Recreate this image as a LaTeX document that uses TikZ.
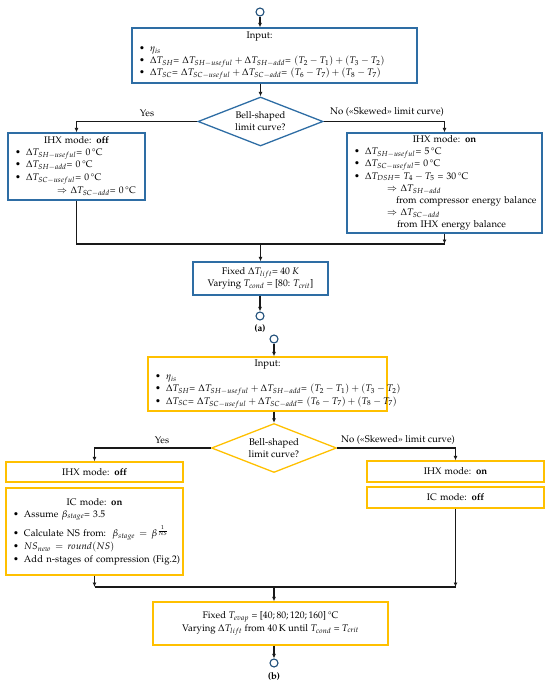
\documentclass[tikz,border=0pt]{standalone}
\usepackage[T1]{fontenc}
\usepackage{mathpazo}
\usepackage{amsmath}
\usetikzlibrary{shapes.geometric,arrows.meta}

\definecolor{boxblue}{RGB}{46,109,164}
\definecolor{circblue}{RGB}{31,78,121}
\definecolor{boxgold}{RGB}{255,192,0}
\definecolor{linegray}{RGB}{25,25,25}

\newcommand{\blt}[1]{\mbox{\makebox[11pt][l]{\textbullet}#1}}
\newcommand{\degC}{\,\textdegree C}

\begin{document}
\begin{tikzpicture}[x=1pt,y=-1pt,font=\fontsize{9.6}{12.2}\selectfont,
  box/.style={draw,rectangle,line width=1.3pt,inner xsep=7pt,inner ysep=1pt},
  bluebox/.style={box,draw=boxblue},
  goldbox/.style={box,draw=boxgold},
  decision/.style={diamond,draw,line width=1.3pt,aspect=2.5,inner sep=0pt,align=center,
    minimum width=125pt,minimum height=49pt},
  endpt/.style={circle,draw=circblue,line width=1.1pt,minimum size=8pt,inner sep=0pt},
  conn/.style={line width=1.1pt,draw=linegray},
  arr/.style={conn,-{Latex[length=4.5pt,width=4pt]}}]
\useasboundingbox (0,0) rectangle (550,687);

% (a)
\node[endpt] (startA) at (260,12) {};
\node[bluebox,minimum width=285pt,minimum height=55pt,text width=271pt,align=left] (inA) at (274.5,55.5)
  {\centering Input:\hspace*{30pt}\par\vspace{1pt}\raggedright
   \blt{$\eta_{is}$}\par
   \blt{$\Delta T_{SH}$= $\Delta T_{SH-useful}+\Delta T_{SH-add}$= $(T_2-T_1)+(T_3-T_2)$}\par
   \blt{$\Delta T_{SC}$= $\Delta T_{SC-useful}+\Delta T_{SC-add}$= $(T_6-T_7)+(T_8-T_7)$}};
\node[decision,draw=boxblue] (decA) at (260.5,121.5) {Bell-shaped\\limit curve?};
\node (yesA) at (147,113) {Yes};
\node (noA) at (387,112) {No (\guillemotleft Skewed\guillemotright\ limit curve)};
\node[bluebox,minimum width=137pt,minimum height=67pt,text width=123pt,align=left] (offA) at (76.5,166.5)
  {\centering IHX mode: \textbf{off}\par\raggedright
   \blt{$\Delta T_{SH-useful}$= 0\degC}\par
   \blt{$\Delta T_{SH-add}$= 0\degC}\par
   \blt{$\Delta T_{SC-useful}$= 0\degC}\par\vspace{1.5pt}
   \hspace*{42pt}$\Rightarrow$\ $\Delta T_{SC-add}$= 0\degC};
\node[bluebox,minimum width=195pt,minimum height=100pt,text width=181pt,align=left] (onA) at (444.5,183)
  {\centering IHX mode: \textbf{on}\par\raggedright
   \blt{$\Delta T_{SH-useful}$= 5\degC}\par
   \blt{$\Delta T_{SC-useful}$= 0\degC}\par
   \blt{$\Delta T_{DSH}$= $T_4-T_5$ = 30\degC}\par
   \hspace*{33pt}$\Rightarrow$ $\Delta T_{SH-add}$\par
   \hspace*{42pt}\mbox{from compressor energy balance}\par
   \hspace*{33pt}$\Rightarrow$ $\Delta T_{SC-add}$\par
   \hspace*{43pt}from IHX energy balance};
\coordinate (mA) at (260.5,244);
\node[bluebox,minimum width=135pt,minimum height=33pt,align=center] (fixA) at (260.5,278.5)
  {Fixed $\Delta T_{lift}$= 40 $K$\\Varying $T_{cond}$ = [80: $T_{crit}$]};
\node[endpt] (endA) at (260,316) {};
\node[font=\fontsize{9.6}{12}\selectfont\bfseries] (labA) at (260,329) {(a)};

\draw[arr] (startA) -- (startA |- inA.north);
\draw[arr] (inA.south -| decA) -- (decA.north);
\draw[arr] (decA.west) -| (offA.north);
\draw[arr] (decA.east) -| (onA.north);
\draw[conn] (offA.south) |- (onA.south |- mA);
\draw[arr] (onA.south) -- (onA.south |- mA);
\draw[arr] (mA) -- (fixA.north);
\draw[arr] (endA |- fixA.south) -- (endA);

% (b)
\node[endpt] (startB) at (274,339) {};
\node[goldbox,minimum width=239pt,minimum height=54pt,text width=225pt,align=left] (inB) at (267.5,384)
  {\centering Input:\par\vspace{1pt}\raggedright
   \blt{$\eta_{is}$}\par
   \blt{$\Delta T_{SH}$= $\Delta T_{SH-useful}+\Delta T_{SH-add}$= $(T_2-T_1)+(T_3-T_2)$}\par
   \blt{$\Delta T_{SC}$= $\Delta T_{SC-useful}+\Delta T_{SC-add}$= $(T_6-T_7)+(T_8-T_7)$}};
\node[decision,draw=boxgold] (decB) at (274,448) {Bell-shaped\\limit curve?};
\node (yesB) at (162,440) {Yes};
\node (noB) at (398,440) {No (\guillemotleft Skewed\guillemotright\ limit curve)};
\node[goldbox,minimum width=177pt,minimum height=20pt,text width=163pt,align=center] (offB) at (94.5,472)
  {IHX mode: \textbf{off}};
\node[goldbox,minimum width=177pt,minimum height=87pt,text width=163pt,align=left] (icOnB) at (94.5,531.5)
  {\centering IC mode: \textbf{on}\par\raggedright
   \blt{Assume $\beta_{stage}$= 3.5}\par\vspace{4pt}
   \blt{Calculate NS from:\ \ $\beta_{stage}\,=\,\beta^{\frac{1}{NS}}$}\par\vspace{1pt}
   \blt{$NS_{new}\,=\,round(NS)$}\par
   \blt{Add n-stages of compression (Fig.2)}};
\node[goldbox,minimum width=177pt,minimum height=21pt,text width=163pt,align=center] (onB) at (455.5,471.5)
  {IHX mode: \textbf{on}};
\node[goldbox,minimum width=177pt,minimum height=21pt,text width=163pt,align=center] (icOffB) at (455.5,497.5)
  {IC mode: \textbf{off}};
\coordinate (mB) at (274,587);
\node[goldbox,minimum width=235pt,minimum height=43pt,align=center] (fixB) at (270.5,623.5)
  {Fixed $T_{evap}$ = [40;\,80;\,120;\,160]\degC\\Varying $\Delta T_{lift}$ from 40\,K until $T_{cond}$ = $T_{crit}$};
\node[endpt] (endB) at (274,663) {};
\node[font=\fontsize{9.6}{12}\selectfont\bfseries] (labB) at (274,677) {(b)};

\draw[arr] (startB) -- (startB |- inB.north);
\draw[arr] (inB.south -| decB) -- (decB.north);
\draw[arr] (decB.west) -| (offB.north);
\draw[arr] (decB.east) -| (onB.north);
\draw[conn] (icOnB.south |- mB) -- (icOffB.south |- mB);
\draw[arr] (icOnB.south) -- (icOnB.south |- mB);
\draw[arr] (icOffB.south) -- (icOffB.south |- mB);
\draw[arr] (mB) -- (mB |- fixB.north);
\draw[arr] (endB |- fixB.south) -- (endB);
\end{tikzpicture}
\end{document}
